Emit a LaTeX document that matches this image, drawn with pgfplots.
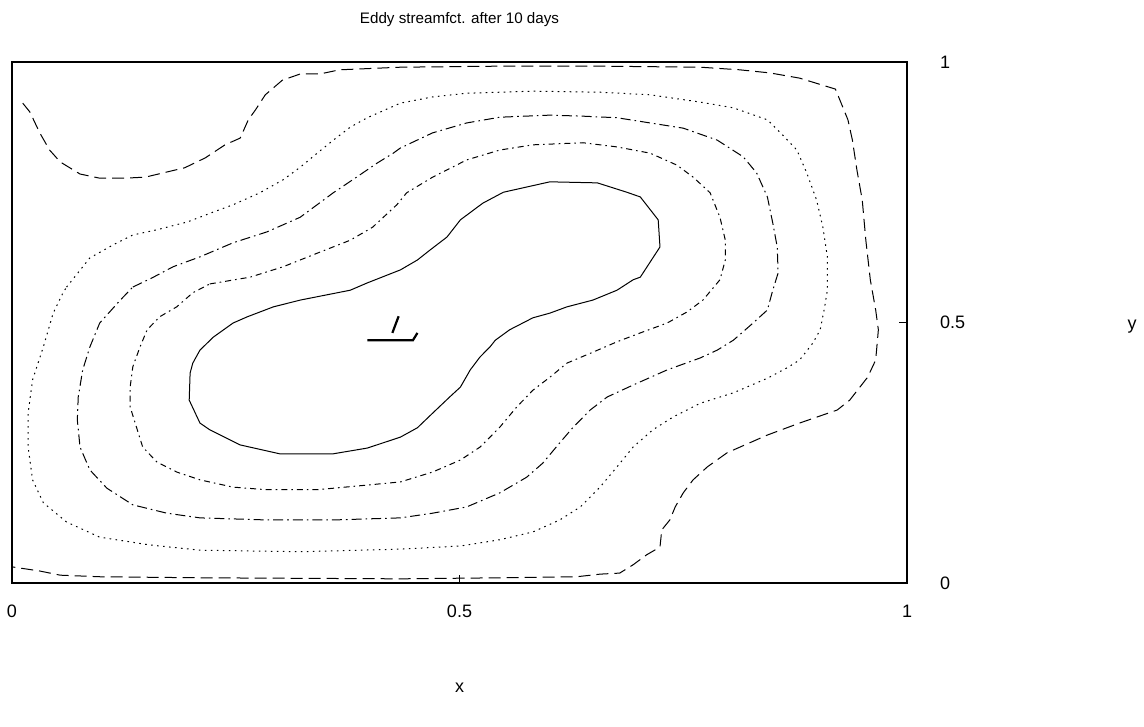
\documentclass[border=0pt]{standalone}
\usepackage{fontspec}
\setmainfont{Liberation Sans}
\usepackage{pgfplots}
\pgfplotsset{compat=1.18}

\begin{document}
\begin{tikzpicture}
\path[use as bounding box] (-6pt,-72pt) rectangle (566pt,291.5pt);
\begin{axis}[
  at={(0,0)}, anchor=origin,
  scale only axis,
  width=447.5pt, height=260.5pt,
  xmin=0, xmax=1, ymin=0, ymax=1,
  xtick={0,0.5,1}, ytick={0,0.5,1},
  xticklabels={0,0.5,1}, yticklabels={0,0.5,1},
  xtick pos=lower, ytick pos=right,
  yticklabel pos=right,
  tick align=inside,
  major tick length=4pt,
  axis line style={line width=0.6pt},
  tick style={black, line width=0.5pt},
  font=\fontsize{9}{11}\selectfont,
  ticklabel style={font=\fontsize{9}{11}\selectfont},
  xticklabel style={anchor=center, yshift=-14pt},
  yticklabel style={anchor=west, xshift=13pt},
  title={Eddy streamfct. after 10 days},
  every axis title/.style={at={(axis description cs:0.5,1)}, anchor=center, yshift=21pt, font=\fontsize{7.6}{9}\selectfont},
  xlabel={x}, ylabel={y},
  every axis x label/.style={at={(axis description cs:0.5,0)}, anchor=center, yshift=-52.5pt},
  every axis y label/.style={at={(axis description cs:1,0.5)}, anchor=center, xshift=112.5pt, yshift=-2pt},
  every axis plot/.append style={black, line width=0.5pt},
]

% outermost contour (long dashes), open at the western edge
\addplot[dash pattern=on 6pt off 3pt] coordinates {
(0.012,0.921) (0.020,0.904) (0.031,0.864) (0.042,0.831) (0.054,0.808)
(0.076,0.785) (0.098,0.777) (0.126,0.777) (0.149,0.779) (0.193,0.797)
(0.216,0.816) (0.238,0.841) (0.255,0.854) (0.264,0.889) (0.272,0.908)
(0.283,0.937) (0.302,0.965) (0.322,0.977) (0.344,0.977) (0.366,0.985)
(0.434,0.990) (0.545,0.992) (0.657,0.992) (0.769,0.990) (0.813,0.985)
(0.847,0.979) (0.880,0.969) (0.920,0.948) (0.925,0.927) (0.934,0.889)
(0.939,0.850) (0.944,0.793) (0.950,0.735) (0.954,0.658) (0.959,0.582)
(0.965,0.524) (0.968,0.486) (0.965,0.428) (0.956,0.395) (0.936,0.351)
(0.922,0.332) (0.880,0.307) (0.844,0.284) (0.799,0.250) (0.777,0.223)
(0.761,0.198) (0.750,0.173) (0.741,0.146) (0.735,0.121) (0.726,0.102)
(0.724,0.069) (0.709,0.054) (0.694,0.035) (0.679,0.019) (0.657,0.017)
(0.631,0.012) (0.545,0.010) (0.434,0.008) (0.210,0.010) (0.098,0.012)
(0.054,0.015) (0.031,0.023) (0.000,0.031)
};

% second contour (dotted)
\addplot[dash pattern=on 0.8pt off 2.2pt] coordinates {
(0.061,0.568) (0.087,0.624) (0.113,0.649) (0.135,0.668) (0.162,0.678)
(0.196,0.693) (0.225,0.712) (0.247,0.726) (0.277,0.749) (0.303,0.774)
(0.322,0.798) (0.341,0.825) (0.359,0.850) (0.378,0.875) (0.397,0.893)
(0.422,0.912) (0.434,0.921) (0.470,0.933) (0.508,0.940) (0.582,0.944)
(0.657,0.942) (0.713,0.937) (0.769,0.923) (0.806,0.912) (0.844,0.889)
(0.861,0.860) (0.877,0.831) (0.888,0.787) (0.899,0.735) (0.906,0.683)
(0.911,0.626) (0.911,0.562) (0.908,0.530) (0.903,0.486) (0.895,0.461)
(0.880,0.428) (0.866,0.413) (0.844,0.393) (0.806,0.365) (0.769,0.345)
(0.739,0.319) (0.716,0.294) (0.694,0.261) (0.676,0.223) (0.657,0.184)
(0.635,0.146) (0.612,0.121) (0.582,0.098) (0.545,0.083) (0.501,0.071)
(0.434,0.065) (0.322,0.060) (0.210,0.063) (0.154,0.073) (0.098,0.088)
(0.061,0.117) (0.035,0.154) (0.023,0.198) (0.018,0.261) (0.018,0.326)
(0.023,0.390) (0.035,0.453) (0.046,0.518) (0.057,0.557) (0.061,0.568)
};

% third contour (dash dot)
\addplot[dash pattern=on 5pt off 2pt on 0.8pt off 2pt] coordinates {
(0.135,0.568) (0.158,0.587) (0.180,0.607) (0.210,0.626) (0.247,0.653)
(0.285,0.674) (0.322,0.702) (0.359,0.749) (0.385,0.779) (0.408,0.806)
(0.426,0.825) (0.434,0.835) (0.470,0.864) (0.508,0.883) (0.545,0.894)
(0.601,0.898) (0.638,0.896) (0.676,0.893) (0.713,0.883) (0.750,0.873)
(0.788,0.850) (0.817,0.818) (0.832,0.787) (0.844,0.741) (0.850,0.691)
(0.855,0.645) (0.856,0.595) (0.850,0.562) (0.844,0.524) (0.828,0.499)
(0.806,0.466) (0.788,0.447) (0.769,0.432) (0.732,0.409) (0.694,0.380)
(0.665,0.357) (0.646,0.332) (0.627,0.299) (0.612,0.269) (0.593,0.230)
(0.575,0.203) (0.545,0.173) (0.508,0.146) (0.470,0.134) (0.434,0.125)
(0.359,0.121) (0.285,0.121) (0.210,0.125) (0.173,0.134) (0.135,0.150)
(0.106,0.182) (0.087,0.217) (0.076,0.261) (0.073,0.313) (0.074,0.357)
(0.079,0.409) (0.087,0.453) (0.098,0.499) (0.121,0.543) (0.135,0.568)
};

% fourth contour (short dash dot)
\addplot[dash pattern=on 3pt off 2pt on 0.8pt off 2pt] coordinates {
(0.221,0.574) (0.266,0.587) (0.303,0.607) (0.341,0.633) (0.378,0.658)
(0.403,0.683) (0.430,0.726) (0.441,0.749) (0.470,0.779) (0.508,0.812)
(0.545,0.831) (0.582,0.841) (0.638,0.845) (0.676,0.837) (0.713,0.825)
(0.743,0.802) (0.761,0.779) (0.780,0.749) (0.791,0.702) (0.797,0.658)
(0.797,0.620) (0.791,0.582) (0.772,0.543) (0.754,0.520) (0.732,0.499)
(0.702,0.480) (0.676,0.463) (0.649,0.443) (0.620,0.422) (0.601,0.395)
(0.582,0.370) (0.564,0.338) (0.545,0.299) (0.523,0.261) (0.501,0.236)
(0.470,0.213) (0.434,0.194) (0.397,0.188) (0.341,0.179) (0.285,0.179)
(0.247,0.184) (0.210,0.198) (0.184,0.213) (0.162,0.232) (0.146,0.261)
(0.140,0.294) (0.132,0.338) (0.132,0.376) (0.135,0.415) (0.143,0.453)
(0.151,0.486) (0.165,0.511) (0.184,0.530) (0.202,0.557) (0.221,0.574)
};

% innermost contour (solid)
\addplot[solid] coordinates {
(0.199,0.403) (0.198,0.351) (0.210,0.307) (0.221,0.294) (0.255,0.265)
(0.299,0.248) (0.359,0.248) (0.397,0.259) (0.434,0.280) (0.453,0.298)
(0.470,0.326) (0.489,0.357) (0.501,0.376) (0.512,0.409) (0.523,0.434)
(0.534,0.453) (0.540,0.466) (0.556,0.486) (0.582,0.509) (0.601,0.518)
(0.620,0.530) (0.649,0.543) (0.676,0.562) (0.694,0.582) (0.702,0.587)
(0.724,0.645) (0.722,0.697) (0.702,0.741) (0.687,0.750) (0.654,0.768)
(0.601,0.770) (0.549,0.750) (0.526,0.729) (0.501,0.697) (0.486,0.664)
(0.467,0.639) (0.453,0.620) (0.434,0.601) (0.397,0.576) (0.378,0.562)
(0.322,0.543) (0.292,0.530) (0.263,0.511) (0.247,0.499) (0.225,0.472)
(0.210,0.447) (0.202,0.422) (0.199,0.403)
};

% small mark near the centre
\addplot[line width=1.1pt] coordinates {(0.397,0.466) (0.448,0.466) (0.453,0.480)};
\addplot[line width=1.1pt] coordinates {(0.425,0.480) (0.432,0.512)};

\end{axis}
\end{tikzpicture}
\end{document}
